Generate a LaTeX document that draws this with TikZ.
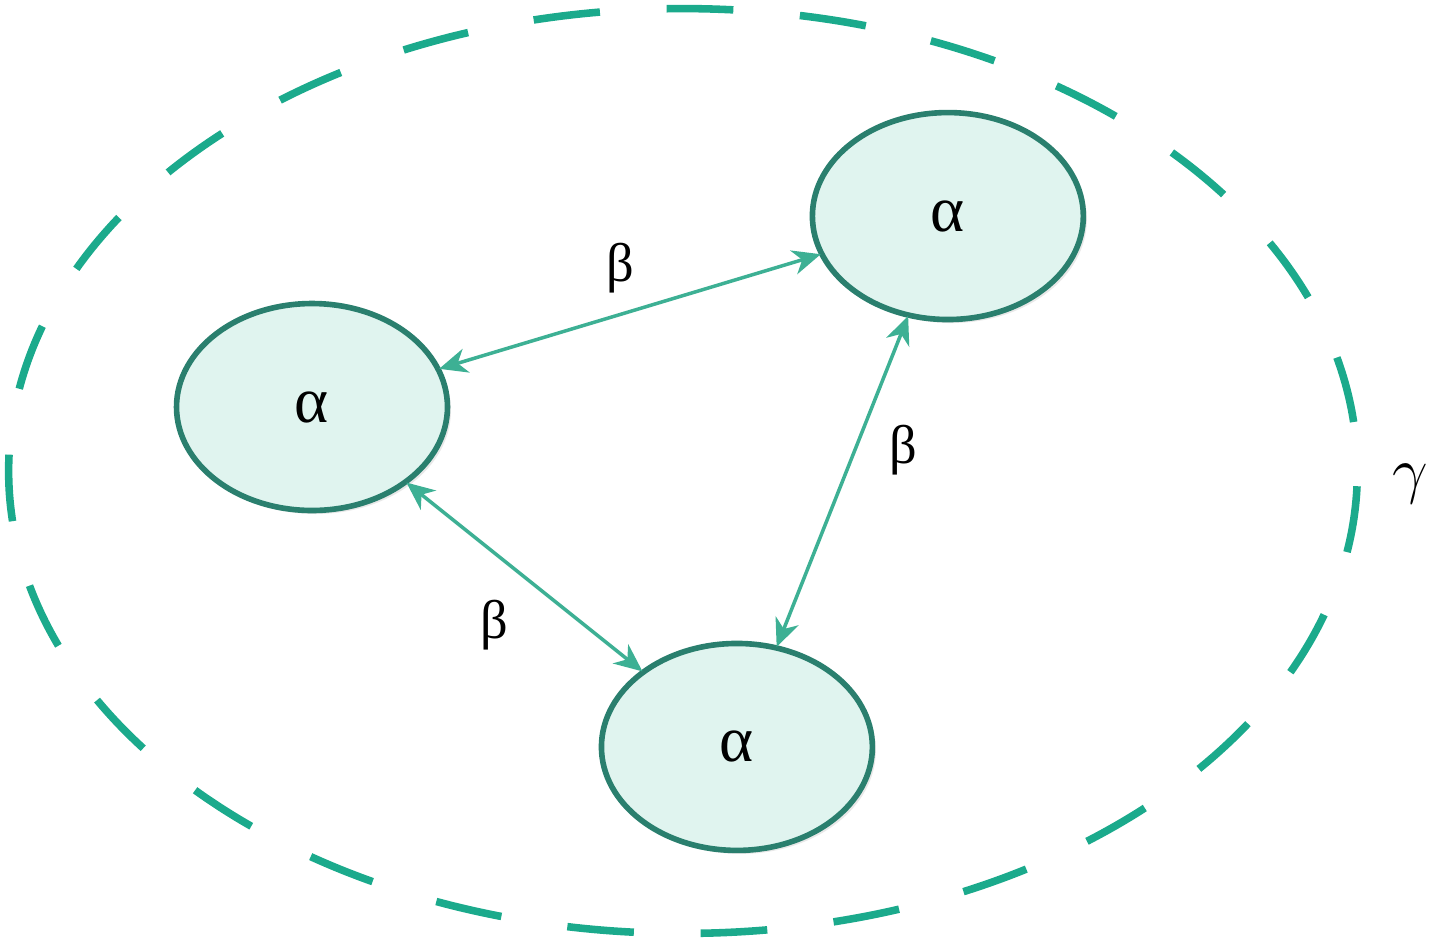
\documentclass[tikz,border=0pt]{standalone}
\usepackage{fontspec}
\setmainfont{Liberation Serif}
\usetikzlibrary{positioning,shapes.geometric,arrows.meta,shadows}

\definecolor{rimteal}{HTML}{2A7F6E}
\definecolor{fillteal}{HTML}{E0F4EF}
\definecolor{linkteal}{HTML}{3DB094}
\definecolor{dashteal}{HTML}{1BAA8C}

\begin{document}
\begin{tikzpicture}[x=0.02cm,y=-0.02cm,node distance=1cm,on grid]
        \useasboundingbox (0,0) rectangle (1456,941);
        \tikzstyle{every node} = [font=\fontsize{31}{34}\selectfont]
        \tikzstyle{cell} = [ellipse,draw=rimteal,line width=3.2pt,fill=fillteal,
          minimum width=5.42cm,minimum height=4.14cm,inner sep=0pt,
          font=\fontsize{37}{40}\selectfont,
          drop shadow={opacity=0.18,shadow xshift=2pt,shadow yshift=-2pt}]
        \tikzstyle{link} = [{Stealth[length=16pt,width=14pt,inset=5pt]}-{Stealth[length=16pt,width=14pt,inset=5pt]},
          draw=linkteal,line width=2pt,shorten <=-1pt,shorten >=-1pt]
        % outer boundary
        \draw[dashteal,line width=4.3pt,dash pattern=on 38pt off 38pt,dash phase=48pt]
          (683,471) ellipse [x radius=13.49cm,y radius=9.25cm];
        \node[cell] (left) at (312,407) {α};
        \node[cell,above right=3.82cm and 12.72cm of left] (top) {α};
        \node[cell,below right=6.8cm and 8.5cm of left] (bottom) {α};
        \draw[link] (left) to (top);
        \draw[link] (top) to (bottom);
        \draw[link] (left) to (bottom);
        \node (btop) at (620,268) {β};
        \node (bright) at (903,450) {β};
        \node (bleft) at (494,625) {β};
        \node[font=\Huge,scale=1.45] (gamma) at (1410,484) {$\gamma$};
      \end{tikzpicture}
\end{document}
